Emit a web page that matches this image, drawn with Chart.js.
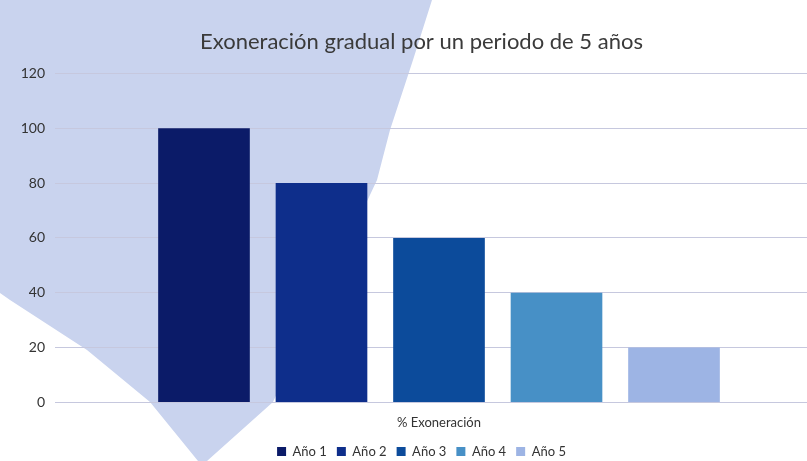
<!DOCTYPE html>
<html>
<head>
<meta charset="utf-8">
<script src="https://cdn.jsdelivr.net/npm/chart.js@4"></script>
<style>
  html, body { margin: 0; padding: 0; overflow: hidden; background: #fff; }
  #wrap { width: 856px; height: 461px; }
</style>
</head>
<body>
<div id="wrap"><canvas id="mycanvas" width="856" height="461"></canvas></div>
<script>
// data
var categories = ["% Exoneración"];
var seriesNames = ["Año 1", "Año 2", "Año 3", "Año 4", "Año 5"];
var seriesValues = [100, 80, 60, 40, 20];
var seriesColors = ["#0b1b68", "#0e2e8b", "#0c4b9b", "#4790c6", "#9db4e4"];

// scanned page has a pale blue shape behind the chart
var paperShape = {
  id: "paperShape",
  beforeDraw: function(chart) {
    var c = chart.ctx;
    c.save();
    c.fillStyle = "#c9d3ee";
    c.beginPath();
    c.moveTo(0, 0);
    c.lineTo(432, 0);
    c.lineTo(413, 60);
    c.lineTo(390, 130);
    c.lineTo(377, 180);
    c.lineTo(273, 402);
    c.lineTo(207, 461);
    c.lineTo(198, 461);
    c.lineTo(150, 402);
    c.lineTo(87, 350);
    c.lineTo(10, 300);
    c.lineTo(0, 293);
    c.closePath();
    c.fill();
    c.restore();
  }
};

var datasets = [];
for (var i in seriesNames) {
  datasets.push({
    label: seriesNames[i],
    data: [seriesValues[i]],
    backgroundColor: seriesColors[i],
    borderWidth: 0,
    categoryPercentage: 0.765,
    barPercentage: 0.78
  });
}

var ctx = document.getElementById("mycanvas");
var chart = new Chart(ctx, {
  type: "bar",
  data: { labels: categories, datasets: datasets },
  plugins: [paperShape],
  options: {
    responsive: false,
    animation: false,
    layout: { padding: { left: 20, right: 33, bottom: -7 } },
    plugins: {
      title: {
        display: true,
        text: "Exoneración gradual por un periodo de 5 años",
        color: "#3a3a3a",
        font: { family: "Lato", size: 22, weight: "normal" },
        padding: { top: 29, bottom: 18 }
      },
      legend: {
        position: "bottom",
        labels: {
          color: "#333333",
          font: { family: "Lato", size: 13 },
          boxWidth: 9,
          boxHeight: 9,
          padding: 10
        }
      },
      tooltip: { enabled: false }
    },
    scales: {
      x: {
        grid: { display: false },
        border: { display: false },
        ticks: { color: "#333333", font: { family: "Lato", size: 13 }, padding: 4.5 }
      },
      y: {
        min: 0,
        max: 120,
        afterFit: function(scale) { scale.width = 35; },
        ticks: { stepSize: 20, color: "#333333", font: { family: "Lato", size: 14 }, padding: 10 },
        grid: { color: "#c6c8de", lineWidth: 1, drawTicks: false },
        border: { display: false }
      }
    }
  }
});
</script>
</body>
</html>
